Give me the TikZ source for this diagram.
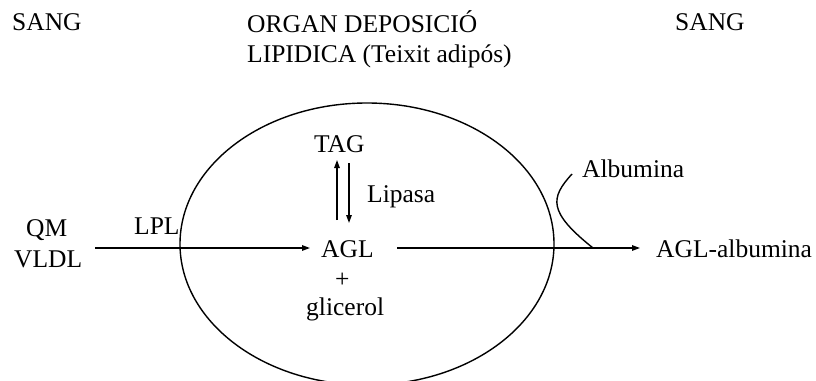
\documentclass[tikz,border=0pt]{standalone}
\usepackage{fontspec}
\setmainfont{Liberation Serif}
\usetikzlibrary{arrows.meta}
\begin{document}
\begin{tikzpicture}[x=1pt,y=-1pt,
  lbl/.style={inner sep=0pt,anchor=base west,font=\fontsize{25.5}{25.5}\selectfont},
  flow/.style={line width=1.4pt,-{Triangle[length=8pt,width=5.5pt]}},
  plain/.style={line width=1.4pt}]
\useasboundingbox (0,0) rectangle (816,380);

% adipose tissue compartment
\draw[plain] (367,244) ellipse [x radius=187, y radius=141];

% headings
\node[lbl] (sangL) at (12,30) {SANG};
\node[lbl] (organ1) at (247,32) {ORGAN DEPOSICIÓ};
\node[lbl] (organ2) at (247,62) {LIPIDICA (Teixit adipós)};
\node[lbl] (sangR) at (675,30) {SANG};

% species
\node[lbl] (qm) at (26,236) {QM};
\node[lbl] (vldl) at (14,267) {VLDL};
\node[lbl] (lpl) at (134,234) {LPL};
\node[lbl] (tag) at (314,152) {TAG};
\node[lbl] (lipasa) at (367,202) {Lipasa};
\node[lbl] (agl) at (321,257) {AGL};
\node[lbl] (plus) at (335,287) {+};
\node[lbl] (glic) at (306,315) {glicerol};
\node[lbl] (alb) at (582,177) {Albumina};
\node[lbl] (aglalb) at (656,257) {AGL-albumina};

% connector end points
\coordinate (inStart) at (95,248);
\coordinate (inEnd) at (310,248);
\coordinate (outStart) at (397,248);
\coordinate (outEnd) at (640,248);
\coordinate (upFrom) at (337,220);
\coordinate (upTo) at (337,160);
\coordinate (dnFrom) at (349,163);
\coordinate (dnTo) at (349,223);
\coordinate (albTop) at (572,174);
\coordinate (albJoin) at (593,248);

% fluxes
\draw[flow] (inStart) -- (inEnd);
\draw[flow] (outStart) -- (outEnd);
\draw[flow] (upFrom) -- (upTo);
\draw[flow] (dnFrom) -- (dnTo);
\draw[plain] (albTop) .. controls (550,198) and (548,212) .. (albJoin);
\end{tikzpicture}
\end{document}
